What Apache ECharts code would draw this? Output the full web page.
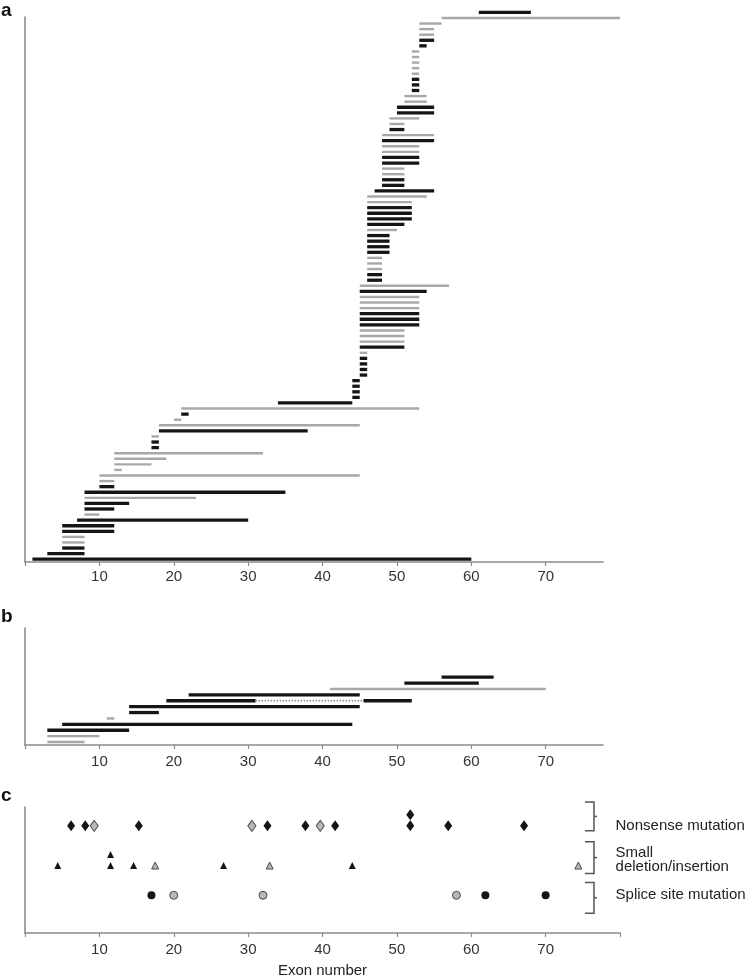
<!DOCTYPE html>
<html>
<head>
<meta charset="utf-8">
<script src="https://cdn.jsdelivr.net/npm/echarts@6.0.0/dist/echarts.min.js"></script>
<style>
  html, body { margin: 0; padding: 0; background: #fff; }
  #chartRoot { width: 750px; height: 979px; }
</style>
</head>
<body>
<div id="chartRoot"></div>
<script>
// ---- panel a: deleted/duplicated exon spans, top row first ----
const aStart = [
  61, 56, 53, 53, 53, 53, 53, 52, 52, 52,
  52, 52, 52, 52, 52, 51, 51, 50, 50, 49,
  49, 49, 48, 48, 48, 48, 48, 48, 48, 48,
  48, 48, 47, 46, 46, 46, 46, 46, 46, 46,
  46, 46, 46, 46, 46, 46, 46, 46, 46, 45,
  45, 45, 45, 45, 45, 45, 45, 45, 45, 45,
  45, 45, 45, 45, 45, 45, 44, 44, 44, 44,
  34, 21, 21, 20, 18, 18, 17, 17, 17, 12,
  12, 12, 12, 10, 10, 10, 8, 8, 8, 8,
  8, 7, 5, 5, 5, 5, 5, 3, 1
];
const aEnd = [
  68, 80, 56, 55, 55, 55, 54, 53, 53, 53,
  53, 53, 53, 53, 53, 54, 54, 55, 55, 53,
  51, 51, 55, 55, 53, 53, 53, 53, 51, 51,
  51, 51, 55, 54, 52, 52, 52, 52, 51, 50,
  49, 49, 49, 49, 48, 48, 48, 48, 48, 57,
  54, 53, 53, 53, 53, 53, 53, 51, 51, 51,
  51, 46, 46, 46, 46, 46, 45, 45, 45, 45,
  44, 53, 22, 21, 45, 38, 18, 18, 18, 32,
  19, 17, 13, 45, 12, 12, 35, 23, 14, 12,
  10, 30, 12, 12, 8, 8, 8, 8, 60
];
// k = black bar, g = grey bar
const aShade = [
  'k', 'g', 'g', 'g', 'g', 'k', 'k', 'g', 'g', 'g',
  'g', 'g', 'k', 'k', 'k', 'g', 'g', 'k', 'k', 'g',
  'g', 'k', 'g', 'k', 'g', 'g', 'k', 'k', 'g', 'g',
  'k', 'k', 'k', 'g', 'g', 'k', 'k', 'k', 'k', 'g',
  'k', 'k', 'k', 'k', 'g', 'g', 'g', 'k', 'k', 'g',
  'k', 'g', 'g', 'g', 'k', 'k', 'k', 'g', 'g', 'g',
  'k', 'g', 'k', 'k', 'k', 'k', 'k', 'k', 'k', 'k',
  'k', 'g', 'k', 'g', 'g', 'k', 'g', 'k', 'k', 'g',
  'g', 'g', 'g', 'g', 'g', 'k', 'k', 'g', 'k', 'k',
  'g', 'k', 'k', 'k', 'g', 'g', 'k', 'k', 'k'
];

// ---- panel b ----
const bStart = [56, 51, 41, 22, 19, 14, 14, 11, 5, 3, 3, 3];
const bEnd = [63, 61, 70, 45, 31, 45, 18, 12, 44, 14, 10, 8];
const bShade = ['k', 'k', 'g', 'k', 'k', 'k', 'k', 'g', 'k', 'k', 'g', 'g'];
// row 5 continues after a dotted gap
const bJoinRow = 5;
const bJoinFrom = 31;
const bJoinTo = 45.5;
const bTailEnd = 52;

// ---- panel c: point mutations (exon position) ----
const nonsenseBlack = [6.2, 8.1, 15.3, 32.6, 37.7, 41.7, 51.8, 51.8, 56.9, 67.1];
const nonsenseGrey = [9.3, 30.5, 39.7];
const smallBlack = [4.4, 11.5, 11.5, 14.6, 26.7, 44.0];
const smallGrey = [17.5, 32.9, 74.4];
const spliceBlack = [17.0, 61.9, 70.0];
const spliceGrey = [20.0, 32.0, 58.0];

const trackNames = ['Nonsense mutation', 'Small\ndeletion/insertion', 'Splice site mutation'];
const trackLevel = [2.75, 1.75, 1];
const trackTextLevel = [2.75, 1.9, 1.0];
const bracketSpan = [[2.625, 3.35], [1.55, 2.35], [0.55, 1.325]];

const xTickLabels = [10, 20, 30, 40, 50, 60, 70];
const xTicksAB = [0, 10, 20, 30, 40, 50, 60, 70];
const xTicksC = [0, 10, 20, 30, 40, 50, 60, 70, 80];

// ---- styling ----
const FONT = '"Liberation Sans", Arial, sans-serif';
const AXIS_GREY = '#8c8c8c';
const BLACK = '#151515';
const GREY = '#a8a8a8';

const chartDom = document.getElementById('chartRoot');
const myChart = echarts.init(chartDom);

function spanRows(starts, ends, shades) {
  const n = starts.length;
  return starts.map((s, i) => [s, ends[i], n - i, shades[i] === 'k' ? 1 : 0]);
}

function stackTrack(xs, level) {
  const seen = {};
  return xs.map((x) => {
    const k = seen[x] || 0;
    seen[x] = k + 1;
    return [x, level + k * 0.28];
  });
}

function renderSpan(params, api) {
  const from = api.coord([api.value(0), api.value(2)]);
  const to = api.coord([api.value(1), api.value(2)]);
  const dark = api.value(3) === 1;
  const h = dark ? 3.3 : 2.4;
  return {
    type: 'rect',
    shape: { x: from[0], y: from[1] - h / 2, width: to[0] - from[0], height: h },
    style: { fill: dark ? BLACK : GREY }
  };
}

function xAxisFor(gridIndex, max, margin, ticks) {
  return {
    type: 'value',
    gridIndex: gridIndex,
    min: 0,
    max: max,
    interval: 10,
    axisLine: { show: true, onZero: false, lineStyle: { color: AXIS_GREY, width: 1.6 } },
    axisTick: { show: true, length: 4, customValues: ticks, lineStyle: { color: AXIS_GREY, width: 1.2 } },
    axisLabel: {
      color: '#333',
      fontSize: 15,
      fontFamily: FONT,
      margin: margin,
      customValues: xTickLabels,
      formatter: (v) => (xTickLabels.includes(v) ? String(v) : '')
    },
    splitLine: { show: false }
  };
}

function yAxisFor(gridIndex, min, max) {
  return {
    type: 'value',
    gridIndex: gridIndex,
    min: min,
    max: max,
    axisLine: { show: true, onZero: false, lineStyle: { color: AXIS_GREY, width: 1.6 } },
    axisTick: { show: false },
    axisLabel: { show: false },
    splitLine: { show: false }
  };
}

const greyMarker = { color: '#b8b8b8', borderColor: '#4a4a4a', borderWidth: 1, opacity: 1 };
const blackMarker = { color: BLACK, opacity: 1 };

function scatter(data, symbol, size, style) {
  return {
    type: 'scatter',
    xAxisIndex: 2,
    yAxisIndex: 2,
    symbol: symbol,
    symbolSize: size,
    itemStyle: style,
    data: data,
    silent: true
  };
}

const bRowCount = bStart.length;
const bRowValue = bRowCount - bJoinRow + 1;

const option = {
  animation: false,
  backgroundColor: '#fff',
  grid: [
    { left: 25, top: 17, width: 578, height: 545 },
    { left: 25, top: 628, width: 578, height: 117 },
    { left: 25, top: 807, width: 595, height: 127 }
  ],
  xAxis: [
    xAxisFor(0, 77.7, 7, xTicksAB),
    xAxisFor(1, 77.7, 9, xTicksAB),
    Object.assign(xAxisFor(2, 80, 9, xTicksC), {
      name: 'Exon number',
      nameLocation: 'middle',
      nameGap: 30,
      nameTextStyle: { fontSize: 15, color: '#222', fontFamily: FONT }
    })
  ],
  yAxis: [
    yAxisFor(0, 0.5, 98.17),
    yAxisFor(1, 0.5, 20.33),
    yAxisFor(2, 0.05, 3.225)
  ],
  graphic: [
    { type: 'text', left: 1, top: 1, style: { text: 'a', font: 'bold 19px ' + FONT, fill: '#111' } },
    { type: 'text', left: 1, top: 607, style: { text: 'b', font: 'bold 19px ' + FONT, fill: '#111' } },
    { type: 'text', left: 1, top: 786, style: { text: 'c', font: 'bold 19px ' + FONT, fill: '#111' } }
  ],
  series: [
    {
      type: 'custom',
      xAxisIndex: 0,
      yAxisIndex: 0,
      clip: false,
      silent: true,
      encode: { x: [0, 1], y: 2 },
      renderItem: renderSpan,
      data: spanRows(aStart, aEnd, aShade)
    },
    {
      type: 'custom',
      xAxisIndex: 1,
      yAxisIndex: 1,
      clip: false,
      silent: true,
      encode: { x: [0, 1], y: 2 },
      renderItem: renderSpan,
      data: spanRows(bStart, bEnd, bShade).concat([[bJoinTo, bTailEnd, bRowValue, 1]])
    },
    {
      type: 'custom',
      xAxisIndex: 1,
      yAxisIndex: 1,
      clip: false,
      silent: true,
      encode: { x: [0, 1], y: 2 },
      renderItem: function (params, api) {
        const p = api.coord([api.value(0), api.value(2)]);
        const q = api.coord([api.value(1), api.value(2)]);
        return {
          type: 'line',
          shape: { x1: p[0], y1: p[1], x2: q[0], y2: q[1] },
          style: { stroke: '#9a9a9a', lineWidth: 2, lineDash: [1.5, 1.5] }
        };
      },
      data: [[bJoinFrom, bJoinTo, bRowValue]]
    },
    scatter(stackTrack(nonsenseBlack, trackLevel[0]), 'diamond', [8, 11], blackMarker),
    scatter(stackTrack(nonsenseGrey, trackLevel[0]), 'diamond', [8, 11], greyMarker),
    scatter(stackTrack(smallBlack, trackLevel[1]), 'triangle', [7, 7], blackMarker),
    scatter(stackTrack(smallGrey, trackLevel[1]), 'triangle', [7, 7], greyMarker),
    scatter(stackTrack(spliceBlack, trackLevel[2]), 'circle', 8, blackMarker),
    scatter(stackTrack(spliceGrey, trackLevel[2]), 'circle', 8, greyMarker),
    {
      // brackets and track names on the right of panel c
      type: 'custom',
      xAxisIndex: 2,
      yAxisIndex: 2,
      clip: false,
      silent: true,
      encode: { y: [0, 1] },
      renderItem: function (params, api) {
        const top = api.coord([76.5, api.value(1)]);
        const bot = api.coord([76.5, api.value(0)]);
        const mid = (top[1] + bot[1]) / 2;
        const txt = api.coord([79.4, api.value(2)]);
        return {
          type: 'group',
          children: [
            {
              type: 'polyline',
              shape: { points: [[top[0] - 9, top[1]], [top[0], top[1]], [top[0], bot[1]], [top[0] - 9, bot[1]]] },
              style: { stroke: '#555', lineWidth: 1.5, fill: 'none' }
            },
            {
              type: 'line',
              shape: { x1: top[0], y1: mid, x2: top[0] + 3, y2: mid },
              style: { stroke: '#555', lineWidth: 1.5 }
            },
            {
              type: 'text',
              x: txt[0],
              y: txt[1],
              style: {
                text: trackNames[params.dataIndex],
                font: '15px ' + FONT,
                fill: '#222',
                align: 'left',
                verticalAlign: 'middle',
                lineHeight: 14
              }
            }
          ]
        };
      },
      data: bracketSpan.map((s, i) => [s[0], s[1], trackTextLevel[i]])
    }
  ]
};

myChart.setOption(option);
</script>
</body>
</html>
